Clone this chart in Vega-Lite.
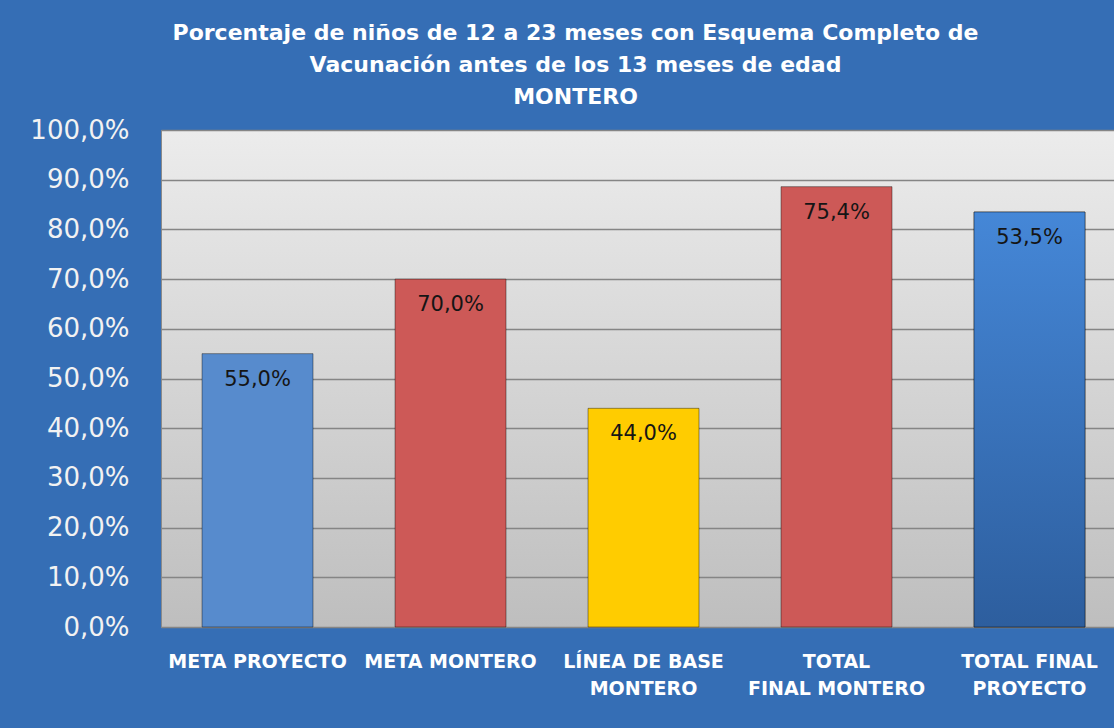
{
  "$schema": "https://vega.github.io/schema/vega-lite/v6.json",
  "width": 953,
  "height": 497,
  "autosize": {"type": "none"},
  "padding": {"left": 161, "top": 130, "right": 0, "bottom": 101},
  "background": "#356eb5",
  "title": {
    "text": ["Porcentaje de niños de 12 a 23 meses con Esquema Completo de", "Vacunación antes de los 13 meses de edad", "MONTERO"],
    "font": "DejaVu Sans",
    "fontSize": 22,
    "fontWeight": "bold",
    "color": "#ffffff",
    "lineHeight": 32,
    "anchor": "middle",
    "dx": -62,
    "offset": 8
  },
  "data": {
    "values": [
      {"categoria": "META PROYECTO", "valor": 55, "etiqueta": "55,0%"},
      {"categoria": "META MONTERO", "valor": 70, "etiqueta": "70,0%"},
      {"categoria": "LÍNEA DE BASE|MONTERO", "valor": 44, "etiqueta": "44,0%"},
      {"categoria": "TOTAL|FINAL MONTERO", "valor": 88.6, "etiqueta": "75,4%"},
      {"categoria": "TOTAL FINAL|PROYECTO", "valor": 83.5, "etiqueta": "53,5%"}
    ]
  },
  "encoding": {
    "x": {
      "field": "categoria",
      "type": "nominal",
      "sort": null,
      "scale": {
        "domain": ["META PROYECTO", "META MONTERO", "LÍNEA DE BASE|MONTERO", "TOTAL|FINAL MONTERO", "TOTAL FINAL|PROYECTO"],
        "paddingInner": 0.425,
        "paddingOuter": 0.1814,
        "align": 0.586
      },
      "axis": {
        "title": null,
        "labelExpr": "split(datum.label, '|')",
        "labelAngle": 0,
        "labelFont": "DejaVu Sans",
        "labelFontSize": 19,
        "labelFontWeight": "bold",
        "labelColor": "#ffffff",
        "labelPadding": 25,
        "labelLineHeight": 27,
        "ticks": false,
        "domain": false,
        "grid": false
      }
    },
    "y": {
      "field": "valor",
      "type": "quantitative",
      "scale": {"domain": [0, 100], "nice": false},
      "axis": {
        "title": null,
        "values": [0, 10, 20, 30, 40, 50, 60, 70, 80, 90, 100],
        "labelExpr": "replace(format(datum.value, '.1f'), '.', ',') + '%'",
        "labelFont": "DejaVu Sans",
        "labelFontSize": 26,
        "labelColor": "#f2f2f2",
        "labelPadding": 32,
        "ticks": false,
        "domain": false,
        "grid": true,
        "gridColor": "#858585",
        "gridWidth": 1.5,
        "gridOpacity": 1
      }
    }
  },
  "layer": [
    {
      "mark": {"type": "bar", "stroke": "#000000", "strokeOpacity": 0.4, "strokeWidth": 1},
      "encoding": {
        "color": {
          "field": "categoria",
          "type": "nominal",
          "scale": {
            "domain": ["META PROYECTO", "META MONTERO", "LÍNEA DE BASE|MONTERO", "TOTAL|FINAL MONTERO", "TOTAL FINAL|PROYECTO"],
            "range": ["#578bcd", "#cd5957", "#ffcc00", "#cd5957", "#3d77c2"]
          },
          "legend": null
        }
      }
    },
    {
      "transform": [{"filter": "datum.categoria == 'TOTAL FINAL|PROYECTO'"}],
      "mark": {
        "type": "bar",
        "stroke": "#000000",
        "strokeOpacity": 0.4,
        "strokeWidth": 1,
        "color": {
          "gradient": "linear",
          "x1": 0, "y1": 0, "x2": 0, "y2": 1,
          "stops": [
            {"offset": 0, "color": "#4587d7"},
            {"offset": 1, "color": "#2d5e9e"}
          ]
        }
      },
      "encoding": {}
    },
    {
      "mark": {
        "type": "text",
        "baseline": "middle",
        "dy": 26,
        "font": "DejaVu Sans",
        "fontSize": 21,
        "color": "#151515"
      },
      "encoding": {"text": {"field": "etiqueta"}}
    }
  ],
  "config": {
    "view": {
      "fill": {
        "gradient": "linear",
        "x1": 0, "y1": 0, "x2": 0, "y2": 1,
        "stops": [
          {"offset": 0, "color": "#ececec"},
          {"offset": 1, "color": "#bebebe"}
        ]
      },
      "stroke": "#8a8a8a",
      "strokeWidth": 1
    }
  }
}
